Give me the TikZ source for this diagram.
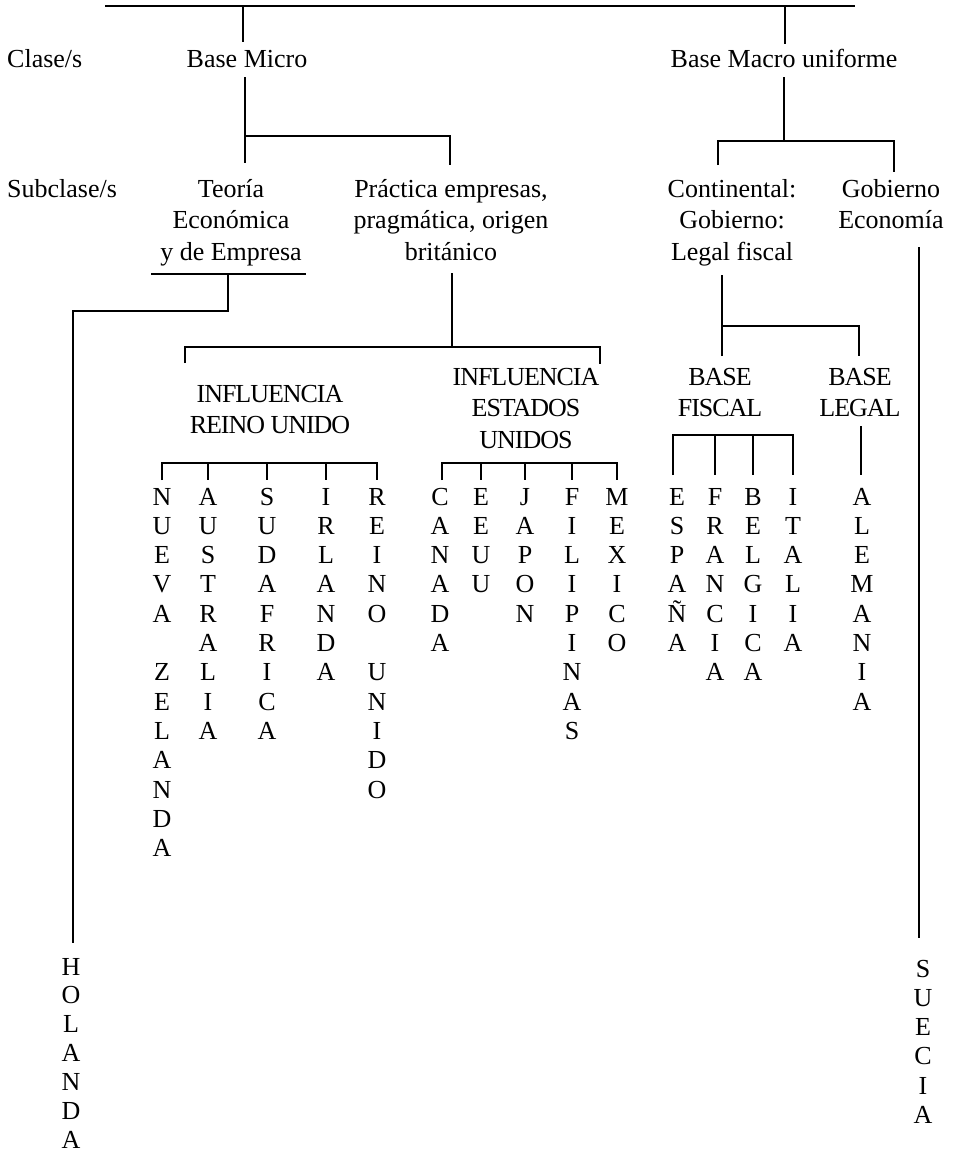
\documentclass[tikz,border=0pt]{standalone}
\usepackage{fontspec}
\setmainfont{Liberation Serif}
\newcommand\vlines[2]{\vtop{\baselineskip=#1\relax\lineskiplimit=-100pt\lineskip=0pt\halign{\hfil##\hfil\cr#2\crcr}}}
\tikzset{
  lbl/.style={inner sep=0pt, anchor=base, font=\fontsize{26}{31.5}\selectfont},
  caps/.style={inner sep=0pt, anchor=base, font=\fontsize{26}{31.5}\selectfont\addfontfeature{LetterSpace=-4}},
  ln/.style={line width=2.4pt, line join=miter}
}
\begin{document}
\begin{tikzpicture}[x=1pt,y=-1pt]
\useasboundingbox (0,0) rectangle (953,1156);
% ---------- texts ----------
\node[lbl, anchor=base west] (clase) at (7,67) {Clase/s};
\node[lbl] (micro) at (247,67) {Base Micro};
\node[lbl] (macro) at (784,67) {Base Macro uniforme};
\node[lbl, anchor=base west] (subclase) at (7,197) {Subclase/s};
\node[lbl] (teoria) at (231,197) {\vlines{31.6pt}{Teoría\cr Económica\cr y de Empresa}};
\node[lbl] (practica) at (451,197) {\vlines{31.6pt}{Práctica empresas,\cr pragmática, origen\cr británico}};
\node[lbl] (contin) at (732,197) {\vlines{31.6pt}{Continental:\cr Gobierno:\cr Legal fiscal}};
\node[lbl] (gobeco) at (891,197) {\vlines{31.6pt}{Gobierno\cr Economía}};
\node[caps] (infuk) at (270,402) {\vlines{31.3pt}{INFLUENCIA\cr REINO UNIDO}};
\node[caps] (infus) at (526,385) {\vlines{31.5pt}{INFLUENCIA\cr ESTADOS\cr UNIDOS}};
\node[caps] (bfiscal) at (720,385) {\vlines{31.8pt}{BASE\cr FISCAL}};
\node[caps] (blegal) at (860,385) {\vlines{31.8pt}{BASE\cr LEGAL}};
% vertical words
\node[lbl] (nz) at (162,505) {\vlines{29.3pt}{N\cr U\cr E\cr V\cr A\cr \cr Z\cr E\cr L\cr A\cr N\cr D\cr A}};
\node[lbl] (aus) at (208,505) {\vlines{29.3pt}{A\cr U\cr S\cr T\cr R\cr A\cr L\cr I\cr A}};
\node[lbl] (sud) at (267,505) {\vlines{29.3pt}{S\cr U\cr D\cr A\cr F\cr R\cr I\cr C\cr A}};
\node[lbl] (irl) at (326,505) {\vlines{29.3pt}{I\cr R\cr L\cr A\cr N\cr D\cr A}};
\node[lbl] (ru) at (377,505) {\vlines{29.3pt}{R\cr E\cr I\cr N\cr O\cr \cr U\cr N\cr I\cr D\cr O}};
\node[lbl] (can) at (440,505) {\vlines{29.3pt}{C\cr A\cr N\cr A\cr D\cr A}};
\node[lbl] (eeuu) at (481,505) {\vlines{29.3pt}{E\cr E\cr U\cr U}};
\node[lbl] (jap) at (525,505) {\vlines{29.3pt}{J\cr A\cr P\cr O\cr N}};
\node[lbl] (fil) at (572,505) {\vlines{29.3pt}{F\cr I\cr L\cr I\cr P\cr I\cr N\cr A\cr S}};
\node[lbl] (mex) at (617,505) {\vlines{29.3pt}{M\cr E\cr X\cr I\cr C\cr O}};
\node[lbl] (esp) at (677,505) {\vlines{29.3pt}{E\cr S\cr P\cr A\cr Ñ\cr A}};
\node[lbl] (fra) at (715,505) {\vlines{29.3pt}{F\cr R\cr A\cr N\cr C\cr I\cr A}};
\node[lbl] (bel) at (753,505) {\vlines{29.3pt}{B\cr E\cr L\cr G\cr I\cr C\cr A}};
\node[lbl] (ita) at (793,505) {\vlines{29.3pt}{I\cr T\cr A\cr L\cr I\cr A}};
\node[lbl] (ale) at (862,505) {\vlines{29.3pt}{A\cr L\cr E\cr M\cr A\cr N\cr I\cr A}};
\node[lbl] (hol) at (71,975) {\vlines{28.9pt}{H\cr O\cr L\cr A\cr N\cr D\cr A}};
\node[lbl] (sue) at (923,977) {\vlines{29.3pt}{S\cr U\cr E\cr C\cr I\cr A}};
% ---------- connector points ----------
\coordinate (topL) at (105,6);
\coordinate (topR) at (855,6);
\coordinate (microUp) at (243,42);
\coordinate (macroUp) at (785,44);
\coordinate (microDn) at (245,77);
\coordinate (microJ) at (245,136);
\coordinate (teoriaUp) at (245,163);
\coordinate (practUp) at (450,165);
\coordinate (macroDn) at (784,77);
\coordinate (macroJ) at (784,141);
\coordinate (continUp) at (718,165);
\coordinate (gobecoUp) at (894,172);
\coordinate (teoL) at (151,274);
\coordinate (teoR) at (306,274);
\coordinate (teoJ) at (228,274);
\coordinate (holUp) at (73,943);
\coordinate (practDn) at (452,273);
\coordinate (practJ) at (452,347);
\coordinate (infukUp) at (185,363);
\coordinate (infusUp) at (600,364);
\coordinate (ukBar) at (162,463);
\coordinate (usBar) at (442,463);
\coordinate (continDn) at (722,275);
\coordinate (continJ) at (722,326);
\coordinate (bfiscalUp) at (722,356);
\coordinate (blegalUp) at (859,356);
\coordinate (fiscBar) at (673,435);
\coordinate (blegalDn) at (861,426);
\coordinate (gobecoDn) at (919,247);
\coordinate (sueUp) at (919,938);
% ---------- connectors ----------
\draw[ln] (topL) -- (topR);
\draw[ln] (microUp) -- (microUp |- topL);
\draw[ln] (macroUp) -- (macroUp |- topL);
\draw[ln] (microDn) -- (teoriaUp);
\draw[ln] (microJ) -| (practUp);
\draw[ln] (macroDn) -- (macroJ);
\draw[ln] (continUp) |- (macroJ) -| (gobecoUp);
\draw[ln] (teoL) -- (teoR);
\draw[ln] (teoJ) -- (teoJ |- 0,311) -| (holUp);
\draw[ln] (practDn) -- (practJ);
\draw[ln] (infukUp) |- (practJ) -| (infusUp);
% UK bracket
\draw[ln] (ukBar |- 0,480) -- (ukBar) -- (ukBar -| ru) -- (ru.north |- 0,480);
\foreach \c in {aus,sud,irl} \draw[ln] (\c |- ukBar) -- (\c |- 0,480);
% US bracket
\draw[ln] (usBar |- 0,480) -- (usBar) -- (usBar -| mex) -- (mex.north |- 0,480);
\foreach \c in {eeuu,jap,fil} \draw[ln] (\c |- usBar) -- (\c |- 0,480);
% continental
\draw[ln] (continDn) -- (continJ);
\draw[ln] (bfiscalUp) |- (continJ) -| (blegalUp);
% fiscal bracket
\draw[ln] (fiscBar |- 0,475) -- (fiscBar) -- (fiscBar -| ita) -- (ita |- 0,475);
\foreach \c in {fra,bel} \draw[ln] (\c |- fiscBar) -- (\c |- 0,475);
\draw[ln] (blegalDn) -- (blegalDn |- 0,475);
% gobierno economia
\draw[ln] (gobecoDn) -- (sueUp);
\end{tikzpicture}
\end{document}
